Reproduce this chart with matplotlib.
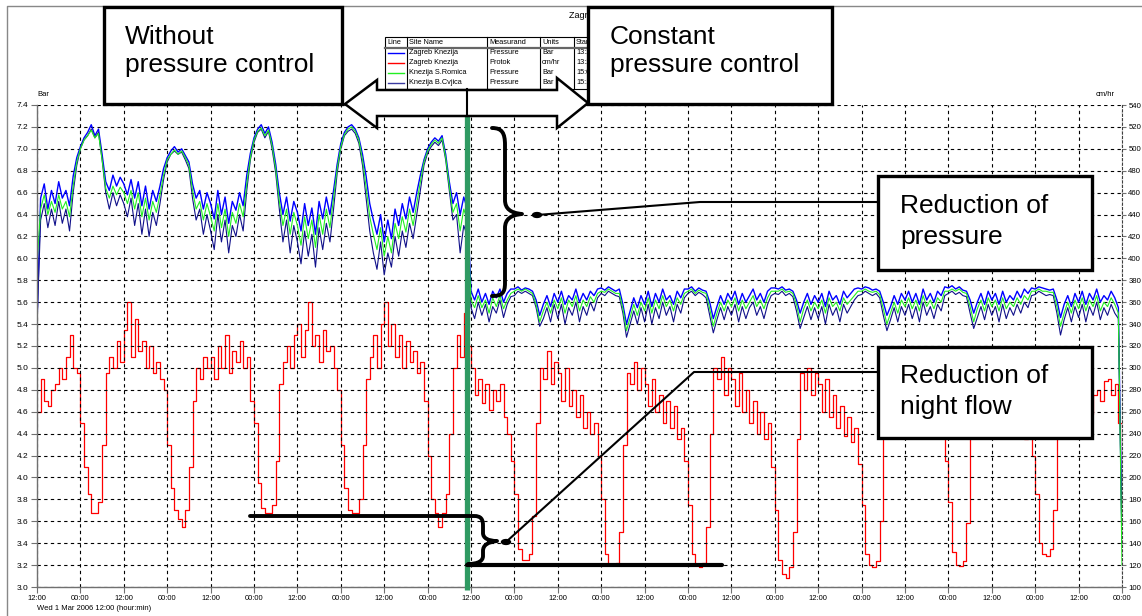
import numpy as np
import matplotlib
matplotlib.use("Agg")
import matplotlib.pyplot as plt
from matplotlib.patches import Rectangle, Polygon, Circle, PathPatch
from matplotlib.path import Path
from matplotlib.lines import Line2D
import matplotlib.transforms as mtransforms

# ---------------- data (hourly readings, t = hours since Wed 1 Mar 2006 12:00) ----------------
hours = list(range(301))
switch_hour = 119  # start of constant pressure control

# Zagreb Knezija pressure [bar] (blue)
pressure_knezija = [
    5.40, 6.55, 6.68, 6.45, 6.62, 6.50, 6.70, 6.55, 6.62, 6.48, 6.75, 6.92,
    7.02, 7.10, 7.15, 7.22, 7.12, 7.18, 6.95, 6.70, 6.62, 6.76, 6.66, 6.74,
    6.68, 6.58, 6.72, 6.55, 6.70, 6.48, 6.66, 6.45, 6.62, 6.52, 6.66, 6.82,
    6.92, 6.98, 7.02, 6.97, 7.00, 6.94, 6.88, 6.68, 6.55, 6.62, 6.45, 6.60,
    6.50, 6.36, 6.62, 6.40, 6.56, 6.32, 6.52, 6.44, 6.60, 6.48, 6.76, 6.96,
    7.10, 7.18, 7.22, 7.14, 7.20, 7.06, 6.86, 6.60, 6.40, 6.56, 6.34, 6.52,
    6.42, 6.25, 6.50, 6.30, 6.46, 6.22, 6.52, 6.36, 6.56, 6.40, 6.62, 6.86,
    7.05, 7.15, 7.20, 7.22, 7.18, 7.10, 6.95, 6.75, 6.50, 6.35, 6.22, 6.40,
    6.15, 6.35, 6.18, 6.45, 6.30, 6.50, 6.36, 6.56, 6.42, 6.60, 6.76, 6.90,
    7.00, 7.06, 7.10, 7.07, 7.12, 6.95, 6.70, 6.50, 6.60, 6.40, 6.56, 6.45,
    5.70, 5.62, 5.72, 5.60, 5.68, 5.58, 5.70, 5.64, 5.72, 5.60, 5.68, 5.72,
    5.72, 5.74, 5.71, 5.73, 5.72, 5.70, 5.62, 5.48, 5.58, 5.66, 5.56, 5.68,
    5.60, 5.70, 5.58, 5.66, 5.62, 5.72, 5.60, 5.68, 5.62, 5.70, 5.66, 5.72,
    5.73, 5.71, 5.74, 5.72, 5.70, 5.72, 5.58, 5.40, 5.52, 5.64, 5.55, 5.66,
    5.58, 5.70, 5.56, 5.68, 5.60, 5.72, 5.62, 5.66, 5.58, 5.70, 5.64, 5.72,
    5.72, 5.74, 5.70, 5.73, 5.71, 5.70, 5.60, 5.45, 5.56, 5.66, 5.58, 5.68,
    5.62, 5.70, 5.58, 5.68, 5.60, 5.66, 5.72, 5.62, 5.68, 5.60, 5.70, 5.73,
    5.73, 5.72, 5.74, 5.71, 5.72, 5.70, 5.62, 5.50, 5.60, 5.68, 5.58, 5.66,
    5.60, 5.68, 5.56, 5.70, 5.62, 5.66, 5.58, 5.70, 5.64, 5.68, 5.72, 5.73,
    5.72, 5.74, 5.73, 5.71, 5.72, 5.70, 5.60, 5.48, 5.56, 5.66, 5.58, 5.68,
    5.62, 5.70, 5.60, 5.68, 5.58, 5.72, 5.62, 5.68, 5.60, 5.70, 5.66, 5.74,
    5.73, 5.75, 5.72, 5.74, 5.71, 5.70, 5.62, 5.50, 5.60, 5.68, 5.58, 5.70,
    5.62, 5.68, 5.58, 5.70, 5.60, 5.66, 5.62, 5.70, 5.64, 5.72, 5.68, 5.73,
    5.72, 5.74, 5.73, 5.72, 5.71, 5.72, 5.62, 5.46, 5.58, 5.66, 5.56, 5.68,
    5.60, 5.70, 5.58, 5.68, 5.62, 5.72, 5.60, 5.66, 5.62, 5.70, 5.64, 5.55,
    3.40,
]

# Knezija B.Cvjica pressure [bar] (navy)
pressure_cvjica = [
    5.40, 6.35, 6.50, 6.28, 6.45, 6.30, 6.52, 6.32, 6.45, 6.25, 6.60, 6.85,
    7.00, 7.08, 7.12, 7.18, 7.10, 7.15, 6.90, 6.60, 6.45, 6.60, 6.48, 6.58,
    6.50, 6.38, 6.55, 6.30, 6.50, 6.22, 6.45, 6.20, 6.42, 6.30, 6.50, 6.72,
    6.88, 6.95, 6.98, 6.95, 6.97, 6.90, 6.82, 6.55, 6.35, 6.45, 6.22, 6.40,
    6.25, 6.08, 6.40, 6.15, 6.35, 6.05, 6.30, 6.20, 6.40, 6.25, 6.62, 6.90,
    7.06, 7.15, 7.18, 7.10, 7.16, 7.00, 6.78, 6.45, 6.15, 6.35, 6.05, 6.30,
    6.15, 5.95, 6.25, 6.02, 6.22, 5.92, 6.28, 6.08, 6.32, 6.15, 6.45, 6.78,
    7.00, 7.12, 7.16, 7.18, 7.14, 7.05, 6.85, 6.55, 6.25, 6.05, 5.90, 6.15,
    5.85, 6.05, 5.92, 6.20, 6.02, 6.25, 6.10, 6.32, 6.18, 6.40, 6.62, 6.85,
    6.96, 7.02, 7.06, 7.03, 7.08, 6.90, 6.62, 6.35, 6.40, 6.05, 6.30, 6.20,
    5.55, 5.45, 5.60, 5.48, 5.58, 5.42, 5.56, 5.50, 5.62, 5.46, 5.58, 5.65,
    5.66, 5.70, 5.68, 5.70, 5.68, 5.66, 5.55, 5.38, 5.45, 5.55, 5.42, 5.58,
    5.45, 5.58, 5.40, 5.55, 5.48, 5.60, 5.42, 5.56, 5.48, 5.60, 5.52, 5.64,
    5.68, 5.66, 5.70, 5.68, 5.66, 5.65, 5.50, 5.28, 5.40, 5.52, 5.40, 5.55,
    5.42, 5.58, 5.40, 5.55, 5.45, 5.60, 5.48, 5.56, 5.42, 5.58, 5.50, 5.64,
    5.68, 5.70, 5.66, 5.69, 5.67, 5.64, 5.48, 5.32, 5.44, 5.55, 5.44, 5.56,
    5.48, 5.58, 5.42, 5.56, 5.45, 5.55, 5.60, 5.48, 5.56, 5.45, 5.58, 5.66,
    5.68, 5.67, 5.70, 5.66, 5.68, 5.65, 5.52, 5.36, 5.46, 5.56, 5.44, 5.55,
    5.45, 5.56, 5.40, 5.58, 5.48, 5.55, 5.42, 5.58, 5.50, 5.56, 5.62, 5.66,
    5.67, 5.70, 5.68, 5.66, 5.68, 5.64, 5.48, 5.34, 5.44, 5.55, 5.42, 5.56,
    5.48, 5.58, 5.45, 5.56, 5.42, 5.60, 5.48, 5.56, 5.45, 5.58, 5.52, 5.66,
    5.68, 5.70, 5.67, 5.69, 5.66, 5.65, 5.50, 5.36, 5.46, 5.56, 5.44, 5.58,
    5.48, 5.56, 5.42, 5.58, 5.45, 5.55, 5.48, 5.58, 5.50, 5.60, 5.55, 5.66,
    5.67, 5.70, 5.68, 5.66, 5.67, 5.66, 5.50, 5.30, 5.44, 5.55, 5.42, 5.56,
    5.46, 5.58, 5.42, 5.56, 5.48, 5.60, 5.44, 5.55, 5.48, 5.58, 5.50, 5.45,
    3.40,
]

# Knezija S.Romica pressure [bar] (green)
pressure_romica = [
    5.95, 6.45, 6.58, 6.40, 6.52, 6.42, 6.58, 6.45, 6.52, 6.38, 6.66, 6.88,
    7.00, 7.08, 7.12, 7.17, 7.10, 7.14, 6.90, 6.64, 6.55, 6.66, 6.58, 6.65,
    6.60, 6.50, 6.62, 6.45, 6.60, 6.38, 6.55, 6.35, 6.52, 6.42, 6.58, 6.76,
    6.90, 6.95, 6.99, 6.95, 6.98, 6.92, 6.85, 6.62, 6.45, 6.52, 6.35, 6.50,
    6.38, 6.25, 6.50, 6.28, 6.45, 6.20, 6.42, 6.32, 6.50, 6.38, 6.68, 6.92,
    7.08, 7.16, 7.19, 7.12, 7.17, 7.03, 6.82, 6.52, 6.30, 6.45, 6.22, 6.42,
    6.30, 6.12, 6.38, 6.18, 6.35, 6.10, 6.40, 6.22, 6.45, 6.28, 6.55, 6.82,
    7.02, 7.13, 7.18, 7.20, 7.16, 7.08, 6.90, 6.65, 6.38, 6.22, 6.08, 6.28,
    6.02, 6.20, 6.05, 6.32, 6.18, 6.38, 6.24, 6.45, 6.30, 6.50, 6.70, 6.88,
    6.98, 7.04, 7.08, 7.05, 7.10, 6.92, 6.66, 6.42, 6.50, 6.25, 6.45, 6.35,
    5.62, 5.55, 5.66, 5.55, 5.62, 5.50, 5.64, 5.56, 5.66, 5.54, 5.62, 5.68,
    5.70, 5.72, 5.70, 5.72, 5.70, 5.68, 5.58, 5.42, 5.52, 5.60, 5.50, 5.62,
    5.54, 5.64, 5.50, 5.62, 5.56, 5.66, 5.52, 5.62, 5.56, 5.65, 5.60, 5.68,
    5.70, 5.69, 5.72, 5.70, 5.68, 5.68, 5.54, 5.34, 5.46, 5.58, 5.48, 5.60,
    5.52, 5.64, 5.50, 5.62, 5.54, 5.66, 5.56, 5.62, 5.52, 5.64, 5.58, 5.68,
    5.70, 5.72, 5.68, 5.71, 5.69, 5.68, 5.54, 5.38, 5.50, 5.60, 5.52, 5.62,
    5.56, 5.64, 5.52, 5.62, 5.54, 5.60, 5.66, 5.56, 5.62, 5.54, 5.64, 5.70,
    5.70, 5.70, 5.72, 5.69, 5.70, 5.68, 5.58, 5.42, 5.54, 5.62, 5.52, 5.60,
    5.54, 5.62, 5.50, 5.64, 5.56, 5.60, 5.52, 5.64, 5.58, 5.62, 5.66, 5.70,
    5.70, 5.72, 5.70, 5.69, 5.70, 5.67, 5.54, 5.40, 5.50, 5.60, 5.50, 5.62,
    5.56, 5.64, 5.54, 5.62, 5.52, 5.66, 5.56, 5.62, 5.54, 5.64, 5.60, 5.70,
    5.70, 5.72, 5.70, 5.72, 5.69, 5.68, 5.56, 5.42, 5.54, 5.62, 5.52, 5.64,
    5.56, 5.62, 5.52, 5.64, 5.54, 5.60, 5.56, 5.64, 5.58, 5.66, 5.62, 5.70,
    5.70, 5.72, 5.70, 5.70, 5.69, 5.69, 5.56, 5.38, 5.50, 5.60, 5.50, 5.62,
    5.54, 5.64, 5.52, 5.62, 5.56, 5.66, 5.52, 5.60, 5.56, 5.64, 5.58, 5.50,
    3.20,
]

# Zagreb Knezija flow "Protok" [cm/hr] (red, right axis)
flow_knezija = [
    260, 290, 270, 265, 280, 285, 300, 290, 310, 330, 300, 295,
    250, 210, 185, 168, 168, 178, 230, 295, 310, 300, 325, 305,
    335, 360, 310, 345, 315, 325, 300, 320, 295, 305, 290, 280,
    230, 190, 170, 162, 155, 170, 210, 270, 300, 290, 310, 300,
    310, 290, 320, 300, 330, 295, 315, 305, 325, 300, 310, 270,
    250, 195, 172, 168, 168, 175, 215, 285, 305, 320, 300, 330,
    340, 310, 335, 360, 320, 330, 305, 335, 315, 320, 300, 280,
    230, 190, 170, 168, 168, 180, 230, 290, 310, 330, 300, 340,
    360, 320, 340, 310, 330, 300, 325, 305, 315, 295, 305, 270,
    220, 180, 168, 155, 168, 185, 240, 300, 330, 310, 350, 320,
    300, 275, 290, 268, 285, 262, 280, 270, 285, 255, 240, 215,
    185, 135, 125, 125, 130, 165, 250, 300, 290, 315, 285, 305,
    295, 270, 300, 265, 280, 255, 275, 245, 260, 240, 250, 220,
    180, 130, 120, 120, 122, 150, 230, 295, 285, 305, 280, 300,
    285, 265, 290, 260, 275, 250, 270, 245, 265, 235, 245, 215,
    175, 130, 120, 118, 122, 155, 240, 300, 290, 310, 275, 300,
    290, 265, 295, 260, 280, 250, 270, 240, 260, 235, 250, 210,
    170, 125, 112, 108, 118, 150, 235, 295, 280, 300, 275, 295,
    285, 260, 290, 255, 275, 245, 265, 238, 255, 232, 245, 212,
    175, 130, 120, 118, 124, 160, 245, 300, 285, 305, 278, 298,
    288, 262, 292, 258, 276, 250, 268, 242, 258, 236, 248, 215,
    178, 132, 120, 119, 124, 158, 240, 296, 284, 302, 276, 295,
    285, 260, 288, 255, 272, 248, 265, 240, 255, 235, 245, 220,
    185, 140, 130, 128, 135, 170, 248, 298, 285, 300, 278, 296,
    282, 262, 285, 258, 275, 280, 270, 288, 290, 275, 285, 250,
    150,
]

x_tick_hours = list(range(0, 301, 12))
x_tick_labels = ["12:00" if i % 2 == 0 else "00:00" for i in range(len(x_tick_hours))]
left_ticks = [round(3.0 + 0.2 * i, 1) for i in range(23)]
right_ticks = list(range(100, 541, 20))

legend_header = ["Line", "Site Name", "Measurand", "Units", "Start"]
legend_sites = ["Zagreb Knezija", "Zagreb Knezija", "Knezija S.Romica", "Knezija B.Cvjica"]
legend_measurands = ["Pressure", "Protok", "Pressure", "Pressure"]
legend_units = ["Bar", "cm/hr", "Bar", "Bar"]
legend_start = ["13:20", "13:20", "15:00", "15:10"]

C_BLUE, C_RED, C_GREEN, C_NAVY = "#0000ff", "#ff0000", "#22ee22", "#10108a"
legend_colors = [C_BLUE, C_RED, C_GREEN, "#3a3aa0"]

# ---------------- figure ----------------
W, H = 1142, 616
fig = plt.figure(figsize=(W / 100, H / 100), dpi=100)
SMALL = ["Liberation Sans Narrow", "Liberation Sans", "DejaVu Sans"]
BIG = ["Liberation Sans", "DejaVu Sans"]

def fx(x):
    return x / W

def fy(y):
    return 1 - y / H

ax = fig.add_axes([fx(37), fy(587), (1122 - 37) / W, (587 - 105) / H])
ax2 = ax.twinx()
ax.set_zorder(ax2.get_zorder() + 1)
ax.patch.set_visible(False)

ax2.step(hours, flow_knezija, where="post", color=C_RED, lw=0.9)
ax.plot(hours, pressure_knezija, color=C_BLUE, lw=1.0)
ax.plot(hours, pressure_cvjica, color=C_NAVY, lw=0.8)
ax.plot(hours, pressure_romica, color=C_GREEN, lw=0.8)

ax.set_xlim(0, 300)
ax.set_ylim(3.0, 7.4)
ax2.set_ylim(100, 540)
ax.set_xticks(x_tick_hours)
ax.set_xticklabels(x_tick_labels, family=SMALL, fontsize=5.5)
ax.set_yticks(left_ticks)
ax.set_yticklabels([f"{v:.1f}" for v in left_ticks], family=SMALL, fontsize=6)
ax2.set_yticks(right_ticks)
ax2.set_yticklabels([str(v) for v in right_ticks], family=SMALL, fontsize=5.6)

ax.grid(True, color="black", lw=0.8, ls=(0, (3, 3)))
for s in ["top", "right"]:
    ax.spines[s].set_visible(False)
for s in ["left", "bottom"]:
    ax.spines[s].set_color("#707070")
    ax.spines[s].set_linewidth(1.0)
for s in ["top", "left", "bottom"]:
    ax2.spines[s].set_visible(False)
ax2.spines["right"].set_linestyle((0, (2, 2)))
ax2.spines["right"].set_color("#404040")
ax2.spines["right"].set_linewidth(0.8)
ax.tick_params(axis="both", length=4, width=0.8, color="#707070", pad=2)
ax2.tick_params(axis="y", length=3, width=0.8, color="#707070", pad=1.5)

fig.text(fx(37), fy(94), "Bar", family=SMALL, fontsize=5.5, va="center", ha="left")
fig.text(fx(1096), fy(94), "cm/hr", family=SMALL, fontsize=5.5, va="center", ha="left")
fig.text(fx(37), fy(608), "Wed 1 Mar 2006 12:00 (hour:min)", family=SMALL, fontsize=5.5,
         va="center", ha="left")
fig.text(fx(569), fy(16), "Zagreb Knezija", family=SMALL, fontsize=6.5, va="center",
         ha="left", zorder=4)

# outer frame (top and left edges)
fig.add_artist(Line2D([fx(7), fx(7), fx(1142)], [fy(616), fy(6), fy(6)],
                      transform=fig.transFigure, color="#888888", lw=1.0, zorder=1))

# switch marker (green vertical bar)
blend = mtransforms.blended_transform_factory(ax.transData, fig.transFigure)
fig.add_artist(Line2D([switch_hour, switch_hour], [fy(116), fy(590)], transform=blend,
                      color="#2f9a62", lw=3.8, zorder=5, solid_capstyle="butt"))

# legend table
tx0, tx1, ty0, ty1 = 385, 640, 37, 89
fig.add_artist(Rectangle((fx(tx0), fy(ty1)), (tx1 - tx0) / W, (ty1 - ty0) / H,
                         transform=fig.transFigure, fc="white", ec="black", lw=0.8, zorder=5))
col_x = [385, 407, 487, 540, 574]
for cx in col_x[1:]:
    fig.add_artist(Line2D([fx(cx), fx(cx)], [fy(ty0), fy(ty1)], transform=fig.transFigure,
                          color="black", lw=0.8, zorder=5))
fig.add_artist(Line2D([fx(tx0), fx(tx1)], [fy(47.5), fy(47.5)], transform=fig.transFigure,
                      color="#666666", lw=1.6, zorder=5))
for j, h in enumerate(legend_header):
    fig.text(fx(col_x[j] + 2), fy(42), h, family=SMALL, fontsize=5.3, va="center",
             ha="left", zorder=6)
row_y = [52.5, 62.5, 72.5, 83]
for i in range(4):
    fig.add_artist(Line2D([fx(388), fx(404)], [fy(row_y[i]), fy(row_y[i])],
                          transform=fig.transFigure, color=legend_colors[i], lw=1.0, zorder=6))
    for j, val in enumerate([legend_sites[i], legend_measurands[i], legend_units[i],
                             legend_start[i]]):
        fig.text(fx(col_x[j + 1] + 2), fy(row_y[i]), val, family=SMALL, fontsize=5.3,
                 va="center", ha="left", zorder=6)

# double headed hollow arrow
arrow_px = [(345, 104), (377, 80), (377, 90), (557, 90), (557, 78), (588, 103),
            (557, 128), (557, 116), (377, 116), (377, 128)]
fig.add_artist(Polygon([(fx(a), fy(b)) for a, b in arrow_px], closed=True,
                       transform=fig.transFigure, fc="white", ec="black", lw=1.8,
                       joinstyle="miter", zorder=7))
fig.add_artist(Line2D([fx(467), fx(467)], [fy(89), fy(116)], transform=fig.transFigure,
                      color="black", lw=1.5, zorder=8))

# text boxes
def text_box(x0, y0, x1, y1, lines, tx, ty, lw=2.4, z=9):
    fig.add_artist(Rectangle((fx(x0), fy(y1)), (x1 - x0) / W, (y1 - y0) / H,
                             transform=fig.transFigure, fc="white", ec="black", lw=lw,
                             zorder=z))
    for k, line in enumerate(lines):
        fig.text(fx(tx), fy(ty[k]), line, family=BIG, fontsize=19, va="baseline",
                 ha="left", zorder=z + 1)

text_box(104, 7, 342, 104, ["Without", "pressure control"], 125, [44, 72])
text_box(588, 7, 832, 104, ["Constant", "pressure control"], 610, [44, 72])
text_box(878, 176, 1092, 270, ["Reduction of", "pressure"], 900, [213, 244])
text_box(878, 347, 1092, 438, ["Reduction of", "night flow"], 900, [383, 414])

# braces and leader lines
def fig_path(verts, codes, lw, z=8):
    p = Path([(fx(a), fy(b)) for a, b in verts], codes)
    fig.add_artist(PathPatch(p, transform=fig.transFigure, fill=False, ec="black",
                             lw=lw, capstyle="round", joinstyle="round", zorder=z))

M, L, C = Path.MOVETO, Path.LINETO, Path.CURVE4
brace_p = [(492, 128), (502, 128), (505, 133), (505, 145), (505, 200),
           (505, 209), (511, 213), (522, 214),
           (511, 215), (505, 219), (505, 228), (505, 283),
           (505, 293), (502, 296), (492, 296)]
brace_c = [M, C, C, C, L, C, C, C, C, C, C, L, C, C, C]
fig_path(brace_p, brace_c, 2.8)

flow_p = [(250, 516), (474, 516), (481, 516), (483, 519), (483, 526), (483, 533),
          (483, 538), (488, 541), (497, 541),
          (488, 542), (483, 545), (483, 551), (483, 556),
          (483, 561), (478, 564), (468, 564)]
flow_c = [M, L, C, C, C, L, C, C, C, C, C, C, L, C, C, C]
fig_path(flow_p, flow_c, 2.8)
fig.add_artist(Line2D([fx(467), fx(722)], [fy(565), fy(565)], transform=fig.transFigure,
                      color="black", lw=3.0, solid_capstyle="round", zorder=8))

fig.add_artist(Line2D([fx(537), fx(700), fx(878)], [fy(215), fy(202), fy(202)],
                      transform=fig.transFigure, color="black", lw=1.5, zorder=8))
fig.add_artist(Line2D([fx(506), fx(694), fx(878)], [fy(542), fy(372), fy(372)],
                      transform=fig.transFigure, color="black", lw=1.5, zorder=8))
for cxp, cyp in [(537, 215), (506, 542)]:
    fig.add_artist(Circle((fx(cxp), fy(cyp)), 4.5 / W, transform=fig.transFigure,
                          color="black", zorder=9))

fig.savefig("out.png", dpi=100)
